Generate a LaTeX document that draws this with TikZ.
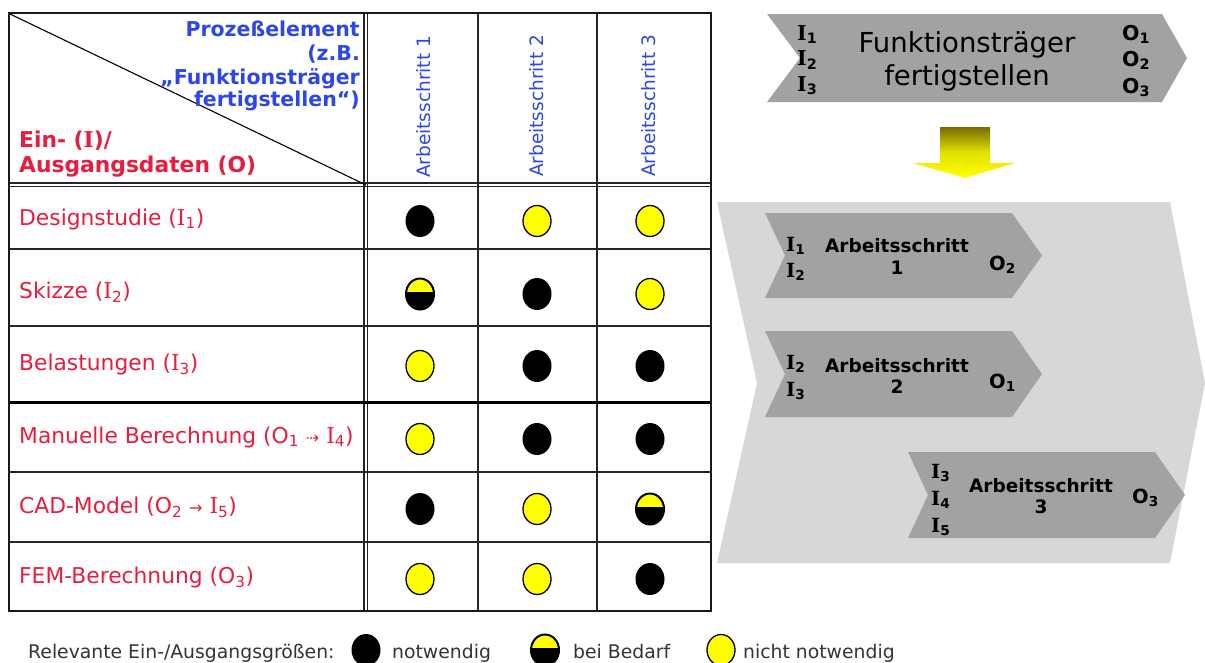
\documentclass[tikz,border=0pt]{standalone}
\usepackage{fontspec}
\setmainfont{DejaVu Sans}
\newfontfamily\serI{DejaVu Serif}
\newcommand\Iv{{\serI I}}
\newcommand\sbs[1]{\textsubscript{#1}}
\definecolor{lblred}{RGB}{232,28,62}
\definecolor{hdblue}{RGB}{45,70,232}
\definecolor{chev}{RGB}{162,162,162}
\definecolor{chevbg}{RGB}{215,215,215}
\definecolor{olivedark}{RGB}{118,108,0}
\definecolor{yel}{RGB}{255,255,0}
\begin{document}
\begin{tikzpicture}[x=1pt,y=-1pt,
  grid/.style={line width=1.2pt, black!85},
  rowlbl/.style={anchor=base west, inner sep=0pt, text=lblred, font=\fontsize{21.8}{25}\selectfont},
  colhd/.style={rotate=90, anchor=west, inner sep=0pt, text=hdblue, font=\fontsize{18.5}{22}\selectfont},
  hdtxt/.style={anchor=base east, inner sep=0pt, text=hdblue, font=\fontsize{20.5}{23}\selectfont\bfseries},
  redtxt/.style={anchor=base west, inner sep=0pt, text=lblred, font=\fontsize{21.8}{25}\selectfont\bfseries},
  toplbl/.style={anchor=base west, inner sep=0pt, font=\fontsize{20.5}{22}\selectfont\bfseries},
  toptitle/.style={anchor=base, inner sep=0pt, font=\fontsize{27.5}{32}\selectfont},
  steplbl/.style={anchor=base west, inner sep=0pt, font=\fontsize{19.5}{20}\selectfont\bfseries},
  steptitle/.style={anchor=base, inner sep=0pt, font=\fontsize{18.5}{20}\selectfont\bfseries},
  legtxt/.style={anchor=base west, inner sep=0pt, text=black!80, font=\fontsize{18.8}{20}\selectfont},
  dotN/.pic={\fill[black] (0,0) ellipse[x radius=14.5, y radius=16];},
  dotY/.pic={\filldraw[fill=yel, draw=black, line width=1.3pt] (0,0) ellipse[x radius=14, y radius=15.5];},
  dotH/.pic={
    \begin{scope}
      \clip (0,0) ellipse[x radius=14.5, y radius=16];
      \fill[black] (-16,-17) rectangle (16,17);
      \fill[yel] (-16,-17) rectangle (16,-2);
    \end{scope}
    \draw[black, line width=2pt] (0,0) ellipse[x radius=14, y radius=15.5];}
]
\useasboundingbox (0,0) rectangle (1205,662);

% ---------- table grid ----------
\draw[grid] (8,183) -- (711,183);
\draw[grid] (8,186.5) -- (711,186.5);
\draw[grid] (364,13) -- (364,611);
\draw[grid] (367.5,13) -- (367.5,611);
\draw[grid] (478,13) -- (478,611);
\draw[grid] (597,13) -- (597,611);
\foreach \yy in {249,326,472,542} \draw[grid] (8,\yy) -- (711,\yy);
\draw[line width=3pt, black] (8,402.5) -- (711,402.5);
\draw[line width=1.1pt, black] (10,14) -- (366,185);
\draw[line width=2.6pt, black!90] (9,13) rectangle (711,611);

% ---------- header texts ----------
\node[hdtxt] (h1) at (360,36) {Prozeßelement};
\node[hdtxt] (h2) at (360,60) {(z.B.};
\node[hdtxt] (h3) at (360,84) {„Funktionsträger};
\node[hdtxt] (h4) at (360,106.5) {fertigstellen“)};
\node[redtxt] (r1) at (19,147) {Ein- (\Iv)/};
\node[redtxt] (r2) at (19,172) {Ausgangsdaten (O)};

\node[colhd] (c1) at (424,178) {Arbeitsschritt 1};
\node[colhd] (c2) at (537,177) {Arbeitsschritt 2};
\node[colhd] (c3) at (649,177) {Arbeitsschritt 3};

% ---------- row labels ----------
\node[rowlbl] (l1) at (19,225) {Designstudie (\Iv\sbs{1})};
\node[rowlbl] (l2) at (19,298.5) {Skizze (\Iv\sbs{2})};
\node[rowlbl] (l3) at (19,370) {Belastungen (\Iv\sbs{3})};
\node[rowlbl] (l4) at (19,443) {Manuelle Berechnung (O\sbs{1} {\fontsize{16}{16}\selectfont ⇢} \Iv\sbs{4})};
\node[rowlbl] (l5) at (19,513.5) {CAD-Model (O\sbs{2} {\fontsize{16}{16}\selectfont →} \Iv\sbs{5})};
\node[rowlbl] (l6) at (19,583.5) {FEM-Berechnung (O\sbs{3})};

% ---------- dots ----------
\pic at (420,221) {dotN};   \pic at (537,221) {dotY}; \pic at (650,221) {dotY};
\pic at (420,294) {dotH};   \pic at (537,294) {dotN}; \pic at (650,294) {dotY};
\pic at (420,366) {dotY};   \pic at (537,366) {dotN}; \pic at (650,366) {dotN};
\pic at (420,439) {dotY};   \pic at (537,439) {dotN}; \pic at (650,439) {dotN};
\pic at (420,509) {dotN};   \pic at (537,509) {dotY}; \pic at (650,509) {dotH};
\pic at (420,579) {dotY};   \pic at (537,579) {dotY}; \pic at (650,579) {dotN};

% ---------- legend ----------
\node[legtxt] (lg0) at (28,658) {Relevante Ein-/Ausgangsgrößen:};
\pic at (366,650) {dotN};
\node[legtxt] (lg1) at (392,658) {notwendig};
\pic at (545,650) {dotH};
\node[legtxt] (lg2) at (573,658) {bei Bedarf};
\pic at (721,650) {dotY};
\node[legtxt] (lg3) at (743,658) {nicht notwendig};

% ---------- right side ----------
\fill[chev] (767,14) -- (1162,14) -- (1187,58) -- (1162,102) -- (767,102) -- (800,58) -- cycle;
\node[toplbl] (tI1) at (797,40) {\Iv\sbs{1}};
\node[toplbl] (tI2) at (797,65.5) {\Iv\sbs{2}};
\node[toplbl] (tI3) at (797,91) {\Iv\sbs{3}};
\node[toplbl] (tO1) at (1122,40) {O\sbs{1}};
\node[toplbl] (tO2) at (1122,66) {O\sbs{2}};
\node[toplbl] (tO3) at (1122,93) {O\sbs{3}};
\node[toptitle] (tt1) at (967,52) {Funktionsträger};
\node[toptitle] (tt2) at (967,85) {fertigstellen};

\shade[top color=olivedark, bottom color=yel, middle color=yel!80!olivedark]
  (940,127) -- (990,127) -- (990,163) -- (1015,163) -- (965,178) -- (913,163) -- (940,163) -- cycle;

\fill[chevbg] (717,202) -- (1170,202) -- (1205,383) -- (1170,563) -- (717,563) -- (757,383) -- cycle;

\fill[chev] (765,213) -- (1012,213) -- (1042,255.5) -- (1012,298) -- (765,298) -- (785,255.5) -- cycle;
\node[steplbl] (s1I1) at (786,251) {\Iv\sbs{1}};
\node[steplbl] (s1I2) at (786,277) {\Iv\sbs{2}};
\node[steptitle] (s1t) at (897,252) {Arbeitsschritt};
\node[steptitle] (s1n) at (897,274) {1};
\node[steplbl] (s1O) at (989,270) {O\sbs{2}};

\fill[chev] (765,331) -- (1012,331) -- (1042,374) -- (1012,417) -- (765,417) -- (785,374) -- cycle;
\node[steplbl] (s2I2) at (786,369) {\Iv\sbs{2}};
\node[steplbl] (s2I3) at (786,396) {\Iv\sbs{3}};
\node[steptitle] (s2t) at (897,372) {Arbeitsschritt};
\node[steptitle] (s2n) at (897,393) {2};
\node[steplbl] (s2O) at (989,388) {O\sbs{1}};

\fill[chev] (908,452) -- (1155,452) -- (1185,495) -- (1155,538) -- (908,538) -- (928,495) -- cycle;
\node[steplbl] (s3I3) at (931,478) {\Iv\sbs{3}};
\node[steplbl] (s3I4) at (931,505) {\Iv\sbs{4}};
\node[steplbl] (s3I5) at (931,532) {\Iv\sbs{5}};
\node[steptitle] (s3t) at (1041,492) {Arbeitsschritt};
\node[steptitle] (s3n) at (1041,513) {3};
\node[steplbl] (s3O) at (1132,503) {O\sbs{3}};
\end{tikzpicture}
\end{document}
